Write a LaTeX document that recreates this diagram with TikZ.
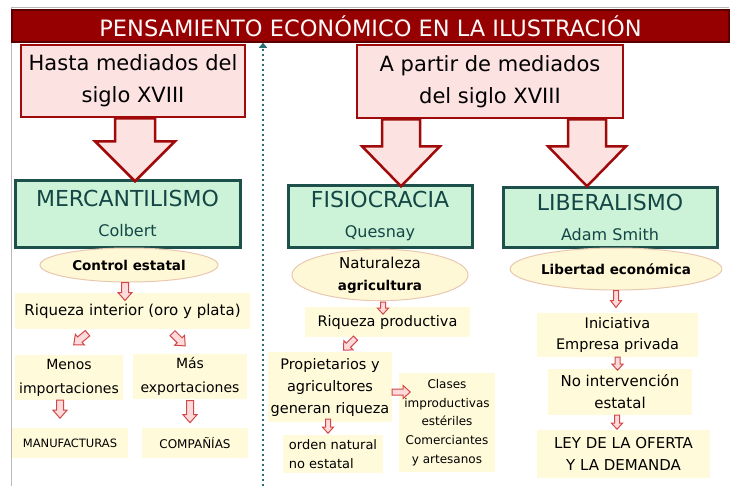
\documentclass[tikz,border=0pt]{standalone}
\usepackage{fontspec}
\setmainfont{DejaVu Sans}
\usetikzlibrary{shapes.geometric,arrows.meta}
\definecolor{barred}{RGB}{150,0,0}
\definecolor{bardark}{RGB}{90,0,0}
\definecolor{boxred}{RGB}{160,10,10}
\definecolor{boxpink}{RGB}{253,226,226}
\definecolor{greenfill}{RGB}{204,243,216}
\definecolor{greenline}{RGB}{30,80,75}
\definecolor{greentext}{RGB}{20,70,70}
\definecolor{ovalfill}{RGB}{255,248,214}
\definecolor{ovalline}{RGB}{232,200,176}
\definecolor{notefill}{RGB}{255,251,218}
\definecolor{smallred}{RGB}{208,72,72}
\definecolor{smallpink}{RGB}{255,218,218}
\definecolor{dotteal}{RGB}{40,110,110}
\begin{document}
\begin{tikzpicture}[x=1pt,y=-1pt,
  titlebar/.style={fill=barred,draw=bardark,line width=1.5pt,text=white!92!pink,minimum width=717pt,minimum height=32pt,inner sep=0pt,font=\fontsize{22.5}{25}\selectfont},
  pinkbox/.style={draw=boxred,fill=boxpink,line width=2.5pt,inner sep=0pt,align=center,font=\fontsize{21}{32}\selectfont},
  greenbox/.style={draw=greenline,fill=greenfill,line width=3pt,text=greentext,inner sep=0pt,align=center,font=\fontsize{22}{30}\selectfont},
  oval/.style={ellipse,draw=ovalline,fill=ovalfill,line width=1pt,inner sep=0pt,align=center},
  note/.style={fill=notefill,inner sep=0pt,align=center},
  divider/.style={dotteal,line width=2.5pt,dash pattern=on 2.5pt off 2.5pt,-{Triangle[width=8pt,length=5pt]}},
  bigarrow/.style={draw=boxred,fill=boxpink,line width=2.5pt},
  smallarrow/.style={draw=smallred,fill=smallpink,line width=1pt},
  pics/fatarrow/.style args={#1/#2/#3/#4}{code={
    \path[pic actions] (-#2,0) -- (#2,0) -- (#2,#1-#4) -- (#3,#1-#4) -- (0,#1) -- (-#3,#1-#4) -- (-#2,#1-#4) -- cycle;}}]
  \fill[white] (0,0) rectangle (733,486);
  \draw[gray!55,line width=1pt] (11,486) -- (11,7) -- (729,7);
  \node[titlebar] (title) at (370.5,26) {PENSAMIENTO ECONÓMICO EN LA ILUSTRACIÓN};
  \coordinate (divbot) at (263,486);
  \draw[divider] (divbot) -- (title.south -| divbot);

  \node[pinkbox,minimum width=224pt,minimum height=72pt] (hasta) at (133,81) {Hasta mediados del\\siglo XVIII};
  \node[pinkbox,minimum width=266pt,minimum height=73pt] (apartir) at (490,81.5) {A partir de mediados\\del siglo XVIII};

  \node[greenbox,minimum width=225pt,minimum height=67pt] (merc) at (127.5,213.5) {MERCANTILISMO\\{\fontsize{16}{19}\selectfont Colbert}};
  \node[greenbox,minimum width=184pt,minimum height=62pt] (fisio) at (380,216) {FISIOCRACIA\\{\fontsize{16}{19}\selectfont Quesnay}};
  \node[greenbox,minimum width=214pt,minimum height=60pt] (liber) at (610,217) {LIBERALISMO\\{\fontsize{16}{19}\selectfont Adam Smith}};

  \pic[bigarrow] at ([xshift=2pt]hasta.south) {fatarrow=63/20/40/40};
  \pic[bigarrow] at ([xshift=-89pt]apartir.south) {fatarrow=67/19/39/40};
  \pic[bigarrow] at ([xshift=97pt]apartir.south) {fatarrow=67/19/39/40};

  \node[oval,minimum width=178pt,minimum height=34pt,font=\bfseries\fontsize{13.5}{16}\selectfont] (ctrl) at (129,265) {Control estatal};
  \node[note,minimum width=235pt,minimum height=36pt,font=\fontsize{15}{18}\selectfont] (riq) at (132.5,311) {Riqueza interior (oro y plata)};
  \node[note,minimum width=108pt,minimum height=45pt,font=\fontsize{14}{24}\selectfont] (menos) at (69,377.5) {Menos\\importaciones};
  \node[note,minimum width=114pt,minimum height=45pt,font=\fontsize{14}{24}\selectfont] (mas) at (190,376) {Más\\exportaciones};
  \node[note,minimum width=116pt,minimum height=30pt,font=\fontsize{11.5}{14}\selectfont] (manuf) at (70,443) {MANUFACTURAS};
  \node[note,minimum width=106pt,minimum height=30pt,font=\fontsize{12}{14}\selectfont] (comp) at (195,443) {COMPAÑÍAS};

  \node[oval,minimum width=176pt,minimum height=48pt,font=\fontsize{15}{22}\selectfont] (natur) at (380,275) {Naturaleza\\{\bfseries\fontsize{13.5}{22}\selectfont agricultura}};
  \node[note,minimum width=165pt,minimum height=30pt,font=\fontsize{14.5}{17}\selectfont] (riqprod) at (387.5,322) {Riqueza productiva};
  \node[note,minimum width=124pt,minimum height=70pt,font=\fontsize{14.5}{22}\selectfont] (prop) at (330,387) {Propietarios y\\agricultores\\generan riqueza};
  \node[note,minimum width=96pt,minimum height=99pt,font=\fontsize{12}{18.7}\selectfont] (clases) at (447,422.5) {Clases\\improductivas\\estériles\\Comerciantes\\y artesanos};
  \node[note,minimum width=100pt,minimum height=38pt,align=left,font=\fontsize{13}{19}\selectfont] (orden) at (333,454) {orden natural\\no estatal};

  \node[oval,minimum width=172pt,minimum height=42pt,font=\bfseries\fontsize{13.5}{16}\selectfont] (libre) at (616,269) {Libertad económica};
  \node[note,minimum width=161pt,minimum height=44pt,font=\fontsize{14.5}{21}\selectfont] (ini) at (617.5,335) {Iniciativa\\Empresa privada};
  \node[note,minimum width=144pt,minimum height=46pt,font=\fontsize{15}{22}\selectfont] (noint) at (620,392) {No intervención\\estatal};
  \node[note,minimum width=173pt,minimum height=48pt,font=\fontsize{15}{22}\selectfont] (ley) at (623.5,454) {LEY DE LA OFERTA\\Y LA DEMANDA};

  \pic[smallarrow] at ([xshift=-4pt]ctrl.south) {fatarrow=18/3.5/7/8};
  \pic[smallarrow,rotate=-50] at ([xshift=-45pt,yshift=-4pt]riq.south) {fatarrow=18/3.5/7/8};
  \pic[smallarrow,rotate=45] at ([xshift=40pt,yshift=-4pt]riq.south) {fatarrow=18/3.5/7/8};
  \pic[smallarrow] at ([xshift=-9pt]menos.south) {fatarrow=18/3.5/7/8};
  \pic[smallarrow] at ([yshift=-2pt]mas.south) {fatarrow=22/3.5/7/8};
  \pic[smallarrow] at ([xshift=3pt,yshift=-1pt]natur.south) {fatarrow=12/2.5/5.5/6};
  \pic[smallarrow,rotate=-45] at ([xshift=-32pt,yshift=-1pt]riqprod.south) {fatarrow=17/3/6.5/7};
  \pic[smallarrow,rotate=90] at ([yshift=-5pt]prop.east) {fatarrow=18/3/6.5/7};
  \pic[smallarrow] at ([xshift=-2pt,yshift=3pt]prop.south) {fatarrow=14/2.5/5.5/6};
  \pic[smallarrow] at (libre.south) {fatarrow=17/2.5/5.5/7};
  \pic[smallarrow] at (ini.south) {fatarrow=13/2.5/5.5/6};
  \pic[smallarrow] at ([xshift=-3pt]noint.south) {fatarrow=14/2.5/5.5/6};
\end{tikzpicture}
\end{document}
